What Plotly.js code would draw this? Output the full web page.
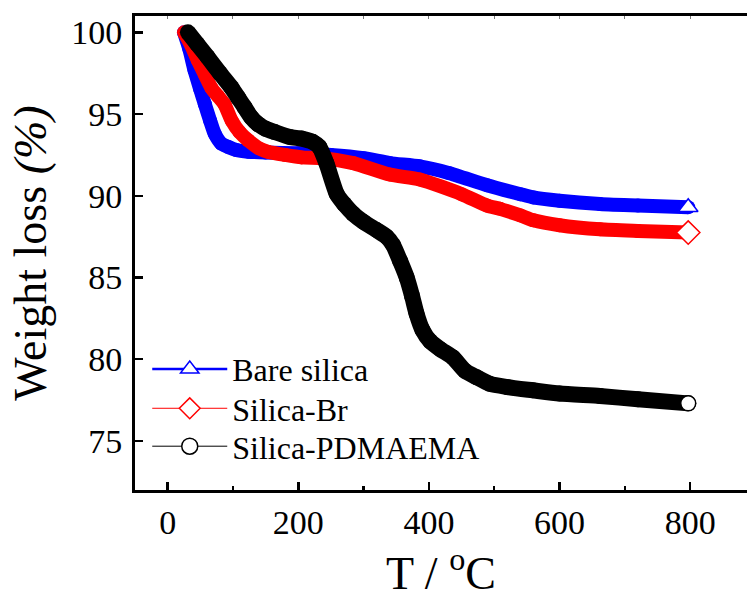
<!DOCTYPE html>
<html>
<head>
<meta charset="utf-8">
<script src="https://cdn.plot.ly/plotly-3.0.1.min.js"></script>
<style>html,body{margin:0;padding:0;background:#fff;}#chart{width:747px;height:599px;}</style>
</head>
<body>
<div id="chart"></div>
<script>
// Bare silica
const bareT = [25, 33, 41, 50, 57, 65, 72, 82, 92, 105, 123, 150, 200, 250, 300, 340, 386, 430, 489, 540, 560, 600, 662, 720, 797];
const bareW = [100.0, 99.0, 97.7, 96.5, 95.6, 94.6, 93.8, 93.2, 93.0, 92.8, 92.7, 92.65, 92.6, 92.5, 92.3, 92.0, 91.8, 91.4, 90.65, 90.1, 89.9, 89.7, 89.5, 89.4, 89.3];
// Silica-Br
const brT = [25, 35, 46, 57, 67, 77, 87, 98, 110, 123, 140, 153, 180, 205, 238, 284, 340, 386, 450, 489, 509, 540, 560, 600, 662, 720, 797];
const brW = [100.0, 99.3, 98.3, 97.4, 96.6, 96.1, 95.6, 94.6, 93.9, 93.4, 92.9, 92.7, 92.5, 92.35, 92.3, 92.0, 91.3, 91.0, 90.1, 89.4, 89.2, 88.8, 88.5, 88.2, 87.95, 87.85, 87.75];
// Silica-PDMAEMA
const pdT = [31, 45, 61, 80, 98, 108, 118, 128, 138, 150, 164, 187, 205, 222, 232, 243, 259, 270, 284, 300, 320, 335, 345, 356, 366, 374, 381, 390, 402, 418, 437, 455, 473, 493, 520, 559, 600, 662, 720, 797];
const pdW = [100.0, 99.3, 98.5, 97.5, 96.6, 96.0, 95.4, 94.8, 94.4, 94.1, 93.9, 93.6, 93.5, 93.3, 93.0, 92.0, 90.1, 89.5, 88.9, 88.4, 87.9, 87.5, 87.0, 86.0, 85.0, 83.9, 82.8, 81.8, 81.1, 80.6, 80.1, 79.3, 78.9, 78.5, 78.3, 78.1, 77.9, 77.75, 77.55, 77.3];

const names = ['Bare silica', 'Silica-Br', 'Silica-PDMAEMA'];
const xTicks = [0, 200, 400, 600, 800];
const yTicks = [75, 80, 85, 90, 95, 100];

const FONT = 'Liberation Serif, Times New Roman, serif';

function band(xs, ys, color, w) {
  return {
    x: xs, y: ys, type: 'scatter', mode: 'lines+markers', showlegend: false,
    line: {color: color, width: w, shape: 'spline', smoothing: 0.6},
    marker: {symbol: 'circle', size: w, color: color, line: {width: 0}},
    hoverinfo: 'skip'
  };
}
function endMark(xs, ys, color, symbol, size) {
  const n = xs.length;
  return {
    x: [xs[n - 1]], y: [ys[n - 1]], type: 'scatter', mode: 'markers', showlegend: false,
    marker: {symbol: symbol, size: size, color: '#ffffff', opacity: 1, line: {color: color, width: 1.5}},
    hoverinfo: 'skip'
  };
}
function legendItem(name, color, lw, symbol, size, legendId) {
  return {
    x: [null], y: [null], type: 'scatter', mode: 'lines+markers', name: name, legend: legendId,
    line: {color: color, width: lw},
    marker: {symbol: symbol, size: size, color: '#ffffff', line: {color: color, width: 1.5}}
  };
}

const data = [
  band(bareT, bareW, '#0000ff', 14),
  band(brT, brW, '#ff0000', 14),
  band(pdT, pdW, '#000000', 16),
  endMark(bareT, bareW, '#0000ff', 'triangle-up', 17),
  endMark(brT, brW, '#ff0000', 'diamond', 18),
  endMark(pdT, pdW, '#000000', 'circle', 15),
  legendItem(names[0], '#0000ff', 2.5, 'triangle-up', 20, 'legend'),
  legendItem(names[1], '#ff0000', 1, 'diamond', 20, 'legend2'),
  legendItem(names[2], '#000000', 1, 'circle', 17, 'legend3')
];
// dummy trace to activate xaxis2 (top minor ticks)
data.push({x: [null], y: [null], xaxis: 'x2', yaxis: 'y', type: 'scatter', mode: 'lines', showlegend: false, hoverinfo: 'skip'});

function legendBox(yPaper) {
  return {
    x: 0.02, y: yPaper, xanchor: 'left', yanchor: 'middle',
    bgcolor: 'rgba(0,0,0,0)', borderwidth: 0,
    font: {family: FONT, size: 32, color: '#000'},
    itemwidth: 75
  };
}

const layout = {
  width: 747, height: 599,
  margin: {l: 135, r: 0, t: 16, b: 109, pad: 0},
  paper_bgcolor: '#ffffff', plot_bgcolor: '#ffffff',
  font: {family: FONT, color: '#000', size: 31},
  showlegend: true,
  legend: legendBox(0.255),
  legend2: legendBox(0.172),
  legend3: legendBox(0.092),
  xaxis: {
    range: [-50, 887], showgrid: false, zeroline: false,
    showline: true, linewidth: 3, linecolor: '#000', mirror: true,
    ticks: 'inside', ticklen: 8, tickwidth: 2.5, tickcolor: '#000',
    tickvals: xTicks, ticktext: xTicks.map(String),
    tickfont: {family: FONT, size: 34, color: '#000'},
    ticklabelstandoff: 0,
    minor: {ticks: 'inside', ticklen: 4, tickwidth: 2.5, tickcolor: '#000', dtick: 100, tick0: 0},
    title: {text: 'T / <sup>o</sup>C', font: {family: FONT, size: 46, color: '#000'}, standoff: 30}
  },
  xaxis2: {
    matches: 'x', overlaying: 'x', side: 'top', showgrid: false, zeroline: false,
    showline: false, ticks: 'inside', ticklen: 3, tickwidth: 1, tickcolor: '#777',
    dtick: 100, tick0: 0, showticklabels: false
  },
  yaxis: {
    range: [72, 101], showgrid: false, zeroline: false,
    showline: true, linewidth: 3, linecolor: '#000',
    ticks: 'inside', ticklen: 8, tickwidth: 2.5, tickcolor: '#000',
    tickvals: yTicks, ticktext: yTicks.map(String),
    tickfont: {family: FONT, size: 34, color: '#000'},
    ticklabelstandoff: 3,
    title: {text: 'Weight loss <i>(%)</i>', font: {family: FONT, size: 46, color: '#000'}, standoff: 11}
  }
};

Plotly.newPlot('chart', data, layout, {staticPlot: true, displayModeBar: false});
</script>
</body>
</html>
